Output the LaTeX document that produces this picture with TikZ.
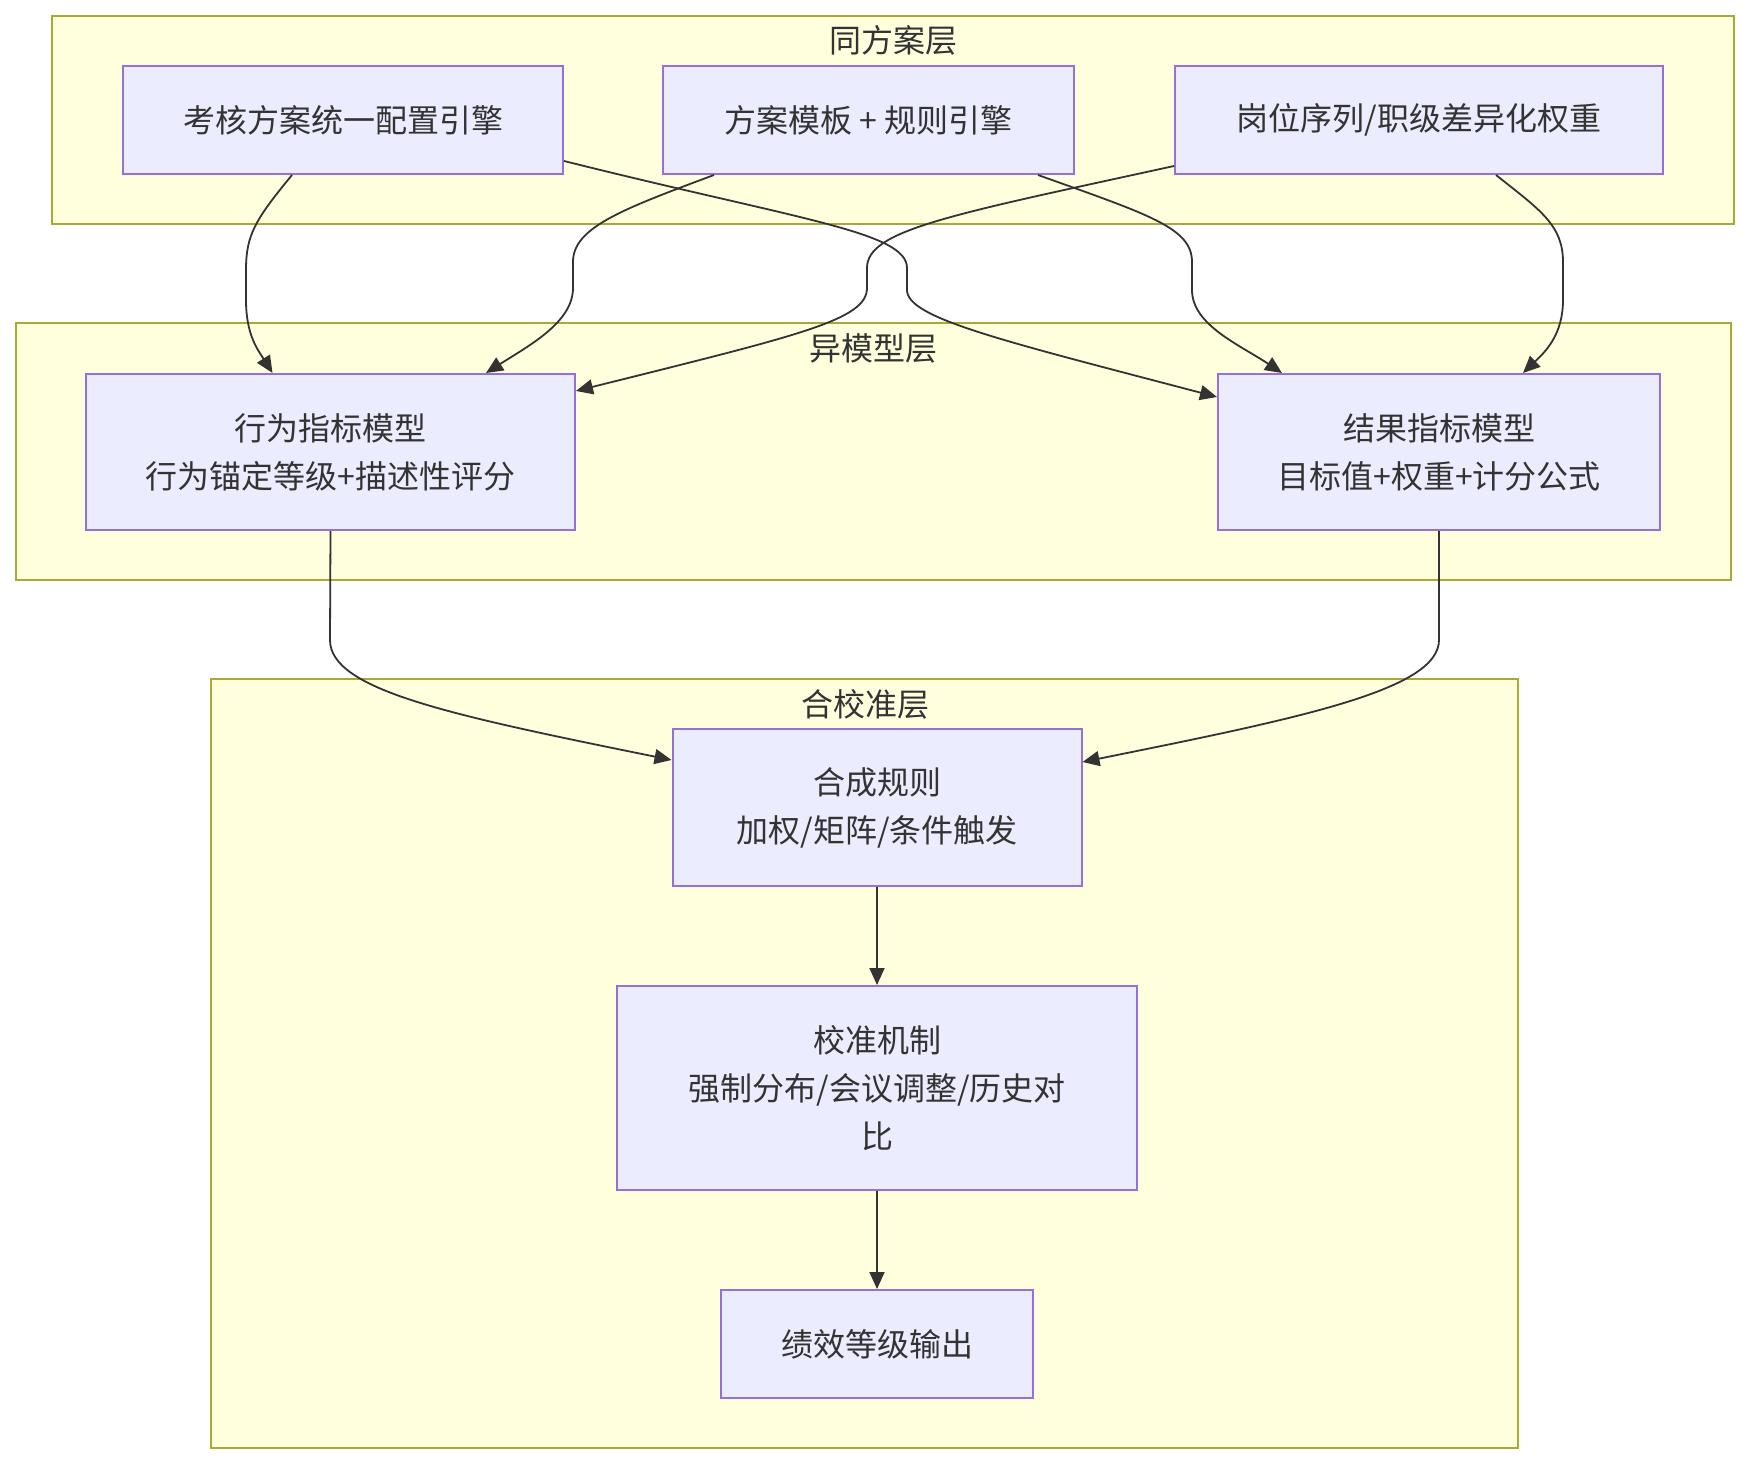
\documentclass[tikz,border=0pt]{standalone}
\usepackage{fontspec}
\newfontfamily\cjk{Noto Sans CJK SC}
\usetikzlibrary{arrows.meta,calc}
\definecolor{clfill}{HTML}{FFFFDE}
\definecolor{clline}{HTML}{AAAA33}
\definecolor{ndfill}{HTML}{ECECFF}
\definecolor{ndline}{HTML}{9370DB}
\definecolor{txt}{HTML}{333333}
\begin{document}
\begin{tikzpicture}[x=1pt,y=-1pt,
  cluster/.style={draw=clline,fill=clfill,line width=2pt},
  ctitle/.style={text=txt,font=\cjk\fontsize{32pt}{48pt}\selectfont,inner sep=0pt},
  box/.style={draw=ndline,fill=ndfill,line width=2pt,text=txt,
    font=\cjk\fontsize{32pt}{48pt}\selectfont,align=center,inner sep=0pt},
  edge/.style={draw=txt,line width=1.8pt,-{Triangle[length=17pt,width=15pt]}},
]
\useasboundingbox[fill=white] (0,0) rectangle (1749,1464);

% clusters
\draw[cluster] (52,16) rectangle (1734,224);
\node[ctitle] (t1) at (893,40) {同方案层};
\draw[cluster] (16,323) rectangle (1731,580);
\node[ctitle] (t2) at (873,348) {异模型层};
\draw[cluster] (211,679) rectangle (1518,1448);
\node[ctitle] (t3) at (865,704) {合校准层};

% nodes
\node[box,minimum width=440pt,minimum height=108pt] (A) at (343,120) {考核方案统一配置引擎};
\node[box,minimum width=411pt,minimum height=108pt] (B) at (868.5,120) {方案模板 + 规则引擎};
\node[box,minimum width=488pt,minimum height=108pt] (C) at (1419,120) {岗位序列/职级差异化权重};
\node[box,minimum width=489pt,minimum height=156pt] (D) at (330.5,452) {行为指标模型\\行为锚定等级+描述性评分};
\node[box,minimum width=442pt,minimum height=156pt] (E) at (1439,452) {结果指标模型\\目标值+权重+计分公式};
\node[box,minimum width=409pt,minimum height=157pt] (F) at (877,807.5) {合成规则\\加权/矩阵/条件触发};
\node[box,minimum width=520pt,minimum height=204pt] (G) at (877,1088) {校准机制\\强制分布/会议调整/历史对\\比};
\node[box,minimum width=312pt,minimum height=108pt] (H) at (877,1344) {绩效等级输出};

% edges
\draw[edge] ($(A.south)+(-51,0)$) .. controls (255,220) and (246,235) .. (246,270)
  -- (246,300) .. controls (246,335) and (258,350) .. ($(D.north)+(-58,0)$);
\draw[edge] ($(B.south)+(-154.5,0)$) .. controls (620,210) and (573,228) .. (573,262)
  -- (573,288) .. controls (573,322) and (530,345) .. ($(D.north)+(155.5,0)$);
\draw[edge] ($(A.east)+(0,41)$) .. controls (800,220) and (907,232) .. (907,268)
  -- (907,290) .. controls (907,318) and (1000,340) .. ($(E.west)+(0,-55)$);
\draw[edge] ($(C.west)+(0,46)$) .. controls (950,215) and (867,230) .. (867,268)
  -- (867,288) .. controls (867,320) and (800,335) .. ($(D.east)+(0,-61)$);
\draw[edge] ($(B.south)+(169.5,0)$) .. controls (1150,215) and (1192,228) .. (1192,262)
  -- (1192,290) .. controls (1192,325) and (1240,345) .. ($(E.north)+(-157,0)$);
\draw[edge] ($(C.south)+(77,0)$) .. controls (1540,210) and (1563,225) .. (1563,262)
  -- (1563,300) .. controls (1563,335) and (1545,352) .. ($(E.north)+(84,0)$);
\draw[edge] (D.south) -- (330,640) .. controls (330,690) and (450,715) .. ($(F.west)+(0,-47.5)$);
\draw[edge] (E.south) -- (1439,640) .. controls (1439,690) and (1300,718) .. ($(F.east)+(0,-45.5)$);
\draw[edge] (F.south) -- (G.north);
\draw[edge] (G.south) -- (H.north);
\end{tikzpicture}
\end{document}
